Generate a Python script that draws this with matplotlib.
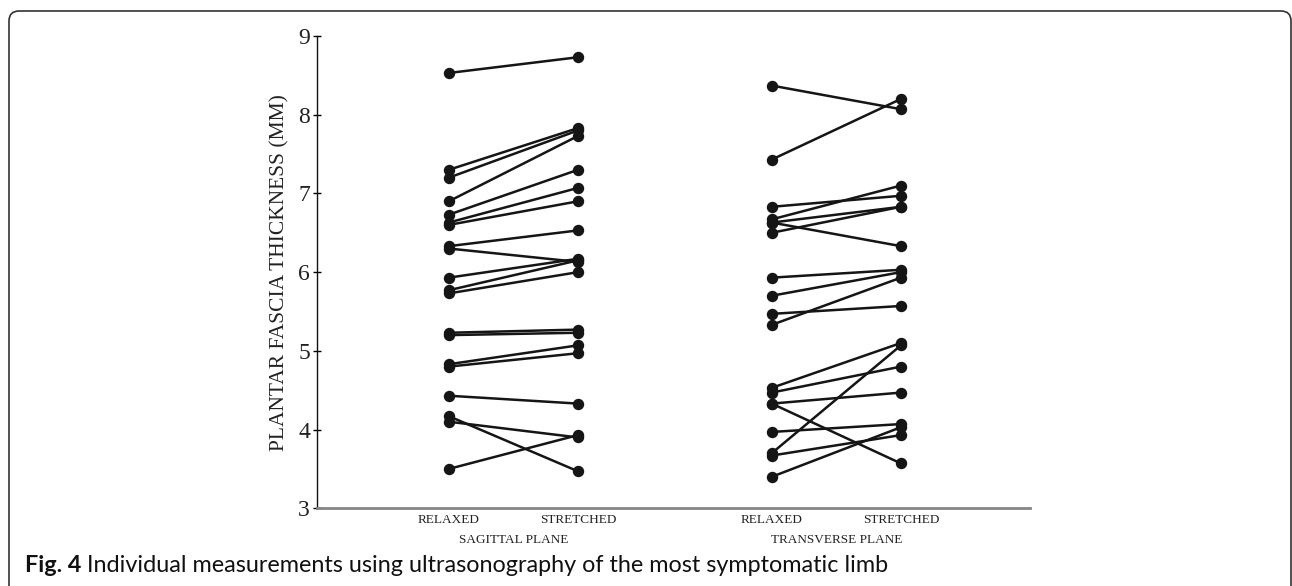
from __future__ import annotations

import matplotlib

matplotlib.use("Agg")
import matplotlib.pyplot as plt
from matplotlib.patches import FancyBboxPatch

# x positions of the four columns
conditions = ["RELAXED", "STRETCHED", "RELAXED", "STRETCHED"]
planes = ["SAGITTAL PLANE", "TRANSVERSE PLANE"]

# sagittal plane, one pair per subject (relaxed, stretched)
sagittal_relaxed = [8.53, 7.30, 7.20, 6.90, 6.73, 6.63, 6.60, 6.33, 6.30, 5.93,
                    5.77, 5.73, 5.23, 5.20, 4.83, 4.80, 4.43, 4.17, 4.10, 3.50]
sagittal_stretched = [8.73, 7.83, 7.80, 7.73, 7.30, 7.07, 6.90, 6.53, 6.13, 6.17,
                      6.15, 6.00, 5.27, 5.23, 5.07, 4.97, 4.33, 3.47, 3.90, 3.93]

# transverse plane
transverse_relaxed = [8.37, 7.43, 6.83, 6.67, 6.63, 6.63, 6.50, 5.93, 5.70, 5.47,
                      5.33, 4.53, 4.47, 4.33, 4.33, 3.97, 3.70, 3.67, 3.40]
transverse_stretched = [8.07, 8.20, 6.97, 7.10, 6.83, 6.33, 6.83, 6.03, 6.00, 5.57,
                        5.93, 5.10, 4.80, 4.47, 3.57, 4.07, 5.07, 3.93, 4.03]

y_ticks = [3, 4, 5, 6, 7, 8, 9]
caption_bold = "Fig. 4"
caption_text = " Individual measurements using ultrasonography of the most symptomatic limb"

SERIF = "Liberation Serif"
SANS = "Lato"
INK = "#151515"


def draw_pairs(ax, x0: float, x1: float, before: list[float], after: list[float]) -> None:
    for a, b in zip(before, after):
        ax.plot(
            [x0, x1],
            [a, b],
            color=INK,
            linewidth=1.8,
            marker="o",
            markersize=7.2,
            solid_capstyle="round",
        )


def make_plot(output_path: str) -> None:
    fig = plt.figure(figsize=(12.92, 5.86), dpi=100)
    ax = fig.add_axes([0.2454, 0.1326, 0.5519, 0.806])

    xs = [1.0, 2.0, 3.5, 4.5]
    draw_pairs(ax, xs[0], xs[1], sagittal_relaxed, sagittal_stretched)
    draw_pairs(ax, xs[2], xs[3], transverse_relaxed, transverse_stretched)

    ax.set_xlim(-0.02, 5.5)
    ax.set_ylim(3, 9)
    ax.set_yticks(y_ticks)
    ax.set_yticklabels([str(t) for t in y_ticks], family=SERIF, fontsize=17, color="#222222")
    ax.tick_params(axis="y", direction="inout", length=6, width=1.0, pad=2)

    ax.set_xticks(xs)
    ax.set_xticklabels(conditions, family=SERIF, fontsize=9.5, color="#222222")
    ax.tick_params(axis="x", length=0, pad=4)

    for spine in ("top", "right"):
        ax.spines[spine].set_visible(False)
    ax.spines["left"].set_linewidth(1.0)
    ax.spines["left"].set_color("#111111")
    ax.spines["bottom"].set_linewidth(2.0)
    ax.spines["bottom"].set_color("#858585")

    ax.set_ylabel(
        "PLANTAR FASCIA THICKNESS (MM)", family=SERIF, fontsize=15.5, color="#222222", labelpad=6
    )

    # plane labels under each pair of columns
    for name, (a, b) in zip(planes, [(xs[0], xs[1]), (xs[2], xs[3])]):
        ax.annotate(
            name,
            xy=((a + b) / 2, 0),
            xycoords=("data", "axes fraction"),
            xytext=(0, -23),
            textcoords="offset points",
            ha="center",
            va="center",
            family=SERIF,
            fontsize=9.5,
            color="#222222",
        )

    # caption
    t1 = fig.text(25 / 1292, 1 - 566 / 586, caption_bold, family=SANS, fontweight="bold",
                  fontsize=16.8, va="center", ha="left", color="#111111")
    fig.canvas.draw()
    bb = t1.get_window_extent()
    fig.text(bb.x1 / fig.bbox.width, 1 - 566 / 586, caption_text, family=SANS,
             fontsize=16.8, va="center", ha="left", color="#111111")

    # rounded frame, open at the bottom
    frame = FancyBboxPatch(
        (0.09, -0.3),
        12.82,
        5.75 + 0.3,
        boxstyle="round,pad=0,rounding_size=0.1",
        transform=fig.dpi_scale_trans,
        facecolor="none",
        edgecolor="#333333",
        linewidth=1.2,
    )
    fig.patches.append(frame)

    fig.savefig(output_path, dpi=100)
    plt.close(fig)


def main() -> None:
    make_plot("out.png")


if __name__ == "__main__":
    main()
